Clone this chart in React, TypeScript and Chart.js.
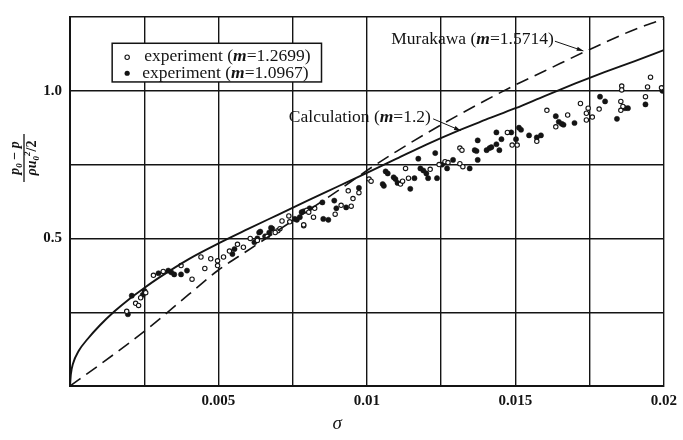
import { useEffect, useRef } from "react";
import { Chart, registerables } from "chart.js";

Chart.register(...registerables);

// ---- data ----
const xTickValues = [0.005, 0.01, 0.015, 0.02];
const xTickLabels = ["0.005", "0.01", "0.015", "0.02"];
const yTickValues = [0.5, 1.0];
const yTickLabels = ["0.5", "1.0"];

const calcSigma = [0, 0.00003, 0.0001, 0.0003, 0.0006, 0.001, 0.0015, 0.002, 0.0025, 0.003, 0.004, 0.005, 0.006, 0.007, 0.008, 0.009, 0.01, 0.011, 0.012, 0.013, 0.014, 0.015, 0.016, 0.017, 0.018, 0.019, 0.02];
const calcY = [0, 0.04, 0.075, 0.12, 0.16, 0.205, 0.253, 0.295, 0.332, 0.367, 0.43, 0.483, 0.532, 0.58, 0.628, 0.675, 0.722, 0.77, 0.818, 0.862, 0.902, 0.941, 0.983, 1.024, 1.063, 1.1, 1.138];

const muraSigma = [0, 0.001, 0.0025, 0.004, 0.005, 0.006, 0.0075, 0.009, 0.01, 0.011, 0.0125, 0.014, 0.015, 0.016, 0.0175, 0.019, 0.02];
const muraY = [0, 0.072, 0.185, 0.31, 0.393, 0.46, 0.56, 0.66, 0.73, 0.795, 0.885, 0.968, 1.02, 1.068, 1.14, 1.207, 1.243];

const openSigma = [0.00191, 0.00221, 0.00231, 0.00255, 0.00238, 0.00281, 0.00314, 0.00374, 0.00411, 0.00441, 0.00454, 0.00474, 0.00497, 0.00497, 0.00517, 0.00537, 0.00564, 0.00584, 0.00607, 0.00631, 0.00664, 0.007, 0.00707, 0.00787, 0.00691, 0.00714, 0.00737, 0.0074, 0.00787, 0.00797, 0.00804, 0.00824, 0.0082, 0.00893, 0.00913, 0.00937, 0.00953, 0.00947, 0.00973, 0.01007, 0.01014, 0.01113, 0.0112, 0.0113, 0.0114, 0.01213, 0.01243, 0.01263, 0.01273, 0.01313, 0.0132, 0.01313, 0.01323, 0.01473, 0.01489, 0.01506, 0.01572, 0.01606, 0.01636, 0.01676, 0.01719, 0.01739, 0.01739, 0.01745, 0.01759, 0.01782, 0.01855, 0.01862, 0.01855, 0.01858, 0.01858, 0.01938, 0.01945, 0.01955, 0.01992];
const openY = [0.253, 0.28, 0.273, 0.316, 0.299, 0.375, 0.388, 0.408, 0.362, 0.437, 0.398, 0.431, 0.424, 0.408, 0.437, 0.457, 0.48, 0.47, 0.5, 0.493, 0.507, 0.526, 0.533, 0.543, 0.52, 0.559, 0.576, 0.556, 0.546, 0.595, 0.589, 0.602, 0.572, 0.582, 0.612, 0.661, 0.635, 0.609, 0.655, 0.701, 0.694, 0.684, 0.694, 0.737, 0.704, 0.734, 0.75, 0.76, 0.757, 0.806, 0.799, 0.753, 0.743, 0.859, 0.816, 0.816, 0.829, 0.934, 0.878, 0.918, 0.957, 0.924, 0.901, 0.941, 0.911, 0.938, 0.964, 0.947, 0.934, 1.016, 1.003, 0.98, 1.013, 1.046, 1.01];

const filledSigma = [0.00195, 0.00208, 0.00245, 0.00251, 0.00298, 0.00331, 0.00341, 0.00351, 0.00374, 0.00394, 0.00547, 0.00554, 0.00621, 0.00637, 0.00641, 0.00631, 0.00657, 0.00671, 0.00681, 0.00677, 0.00757, 0.00764, 0.00774, 0.0078, 0.00787, 0.00807, 0.0085, 0.00853, 0.0087, 0.0089, 0.00897, 0.0093, 0.00973, 0.01053, 0.01057, 0.01063, 0.0107, 0.0109, 0.01096, 0.01103, 0.01146, 0.0116, 0.01173, 0.0118, 0.0119, 0.012, 0.01206, 0.0123, 0.01236, 0.01253, 0.0127, 0.0129, 0.01346, 0.01373, 0.01363, 0.01369, 0.01373, 0.01403, 0.01413, 0.01419, 0.01436, 0.01436, 0.01446, 0.01453, 0.01486, 0.01512, 0.01519, 0.01502, 0.01546, 0.01572, 0.01586, 0.01636, 0.01646, 0.01656, 0.01662, 0.01699, 0.01785, 0.01802, 0.01842, 0.01869, 0.01879, 0.01938, 0.01995];
const filledY = [0.243, 0.306, 0.309, 0.322, 0.382, 0.391, 0.385, 0.378, 0.378, 0.391, 0.447, 0.464, 0.487, 0.52, 0.523, 0.5, 0.507, 0.52, 0.533, 0.536, 0.566, 0.563, 0.572, 0.589, 0.592, 0.602, 0.622, 0.566, 0.563, 0.628, 0.602, 0.605, 0.671, 0.684, 0.678, 0.727, 0.72, 0.707, 0.701, 0.688, 0.668, 0.704, 0.77, 0.737, 0.73, 0.72, 0.704, 0.789, 0.704, 0.75, 0.737, 0.766, 0.737, 0.832, 0.799, 0.796, 0.766, 0.799, 0.806, 0.809, 0.859, 0.819, 0.799, 0.836, 0.859, 0.875, 0.868, 0.836, 0.849, 0.842, 0.849, 0.914, 0.895, 0.888, 0.885, 0.891, 0.98, 0.964, 0.905, 0.941, 0.941, 0.954, 1.0];

const legendLabels = ["experiment (", "m", "=1.2699)", "experiment (", "m", "=1.0967)"];
const murakawaLabel = ["Murakawa (", "m", "=1.5714)"];
const calcLabel = ["Calculation (", "m", "=1.2)"];
const xTitle = "σ";

const toPts = (xs: number[], ys: number[]) => xs.map((x, i) => ({ x, y: ys[i] }));

const SERIF = '"Liberation Serif", "DejaVu Serif", serif';
const INK = "#141414";

type Run = { t: string; font: string; dy?: number };

function drawRuns(ctx: CanvasRenderingContext2D, runs: Run[], x: number, y: number, align: "left" | "center" = "left") {
  let total = 0;
  for (const r of runs) {
    ctx.font = r.font;
    total += ctx.measureText(r.t).width;
  }
  let cx = align === "center" ? x - total / 2 : x;
  ctx.textAlign = "left";
  ctx.textBaseline = "alphabetic";
  for (const r of runs) {
    ctx.font = r.font;
    ctx.fillText(r.t, cx, y + (r.dy || 0));
    cx += ctx.measureText(r.t).width;
  }
  return total;
}

function labelRuns(parts: string[], size: number): Run[] {
  return [
    { t: parts[0], font: `${size}px ${SERIF}` },
    { t: parts[1], font: `italic bold ${size}px ${SERIF}` },
    { t: parts[2], font: `${size}px ${SERIF}` },
  ];
}

const overlayPlugin = {
  id: "overlay",
  afterDatasetsDraw(chart: any) {
    const ctx: CanvasRenderingContext2D = chart.ctx;
    const xs = chart.scales.x;
    const ys = chart.scales.y;
    const px = (v: number) => xs.getPixelForValue(v);
    const py = (v: number) => ys.getPixelForValue(v);
    ctx.save();
    ctx.fillStyle = INK;
    ctx.strokeStyle = INK;

    // legend box
    const bx0 = px(0.00142), bx1 = px(0.00847), by0 = py(1.161), by1 = py(1.03);
    ctx.fillStyle = "#fff";
    ctx.fillRect(bx0, by0, bx1 - bx0, by1 - by0);
    ctx.lineWidth = 1.5;
    ctx.strokeRect(bx0, by0, bx1 - bx0, by1 - by0);
    ctx.fillStyle = INK;
    ctx.beginPath();
    ctx.arc(bx0 + 15, by0 + 14, 2.2, 0, Math.PI * 2);
    ctx.lineWidth = 1.1;
    ctx.stroke();
    ctx.beginPath();
    ctx.arc(bx0 + 15, by0 + 30, 2.6, 0, Math.PI * 2);
    ctx.fill();
    drawRuns(ctx, labelRuns(legendLabels.slice(0, 3), 17.5), bx0 + 32, by0 + 18);
    drawRuns(ctx, labelRuns(legendLabels.slice(3, 6), 17.5), bx0 + 30, by0 + 35);

    const arrow = (x0: number, y0: number, x1: number, y1: number) => {
      ctx.lineWidth = 1;
      ctx.beginPath();
      ctx.moveTo(x0, y0);
      ctx.lineTo(x1, y1);
      ctx.stroke();
      const a = Math.atan2(y1 - y0, x1 - x0);
      ctx.beginPath();
      ctx.moveTo(x1, y1);
      ctx.lineTo(x1 - 7 * Math.cos(a - 0.3), y1 - 7 * Math.sin(a - 0.3));
      ctx.lineTo(x1 - 7 * Math.cos(a + 0.3), y1 - 7 * Math.sin(a + 0.3));
      ctx.closePath();
      ctx.fill();
    };
    // Murakawa annotation
    drawRuns(ctx, labelRuns(murakawaLabel, 17.5), px(0.01082), py(1.158));
    arrow(px(0.01633), py(1.168), px(0.01729), py(1.135));
    // Calculation annotation
    drawRuns(ctx, labelRuns(calcLabel, 17.5), px(0.00737), py(0.895));
    arrow(px(0.01223), py(0.905), px(0.01316), py(0.865));

    // x title
    ctx.font = `italic 19px ${SERIF}`;
    ctx.textAlign = "center";
    ctx.textBaseline = "alphabetic";
    ctx.fillText(xTitle, px(0.009), 429);

    // y title fraction (rotated)
    ctx.translate(24, 158);
    ctx.rotate(-Math.PI / 2);
    const f = `italic bold 14px ${SERIF}`;
    const fs = `italic bold 9px ${SERIF}`;
    drawRuns(ctx, [
      { t: "p", font: f },
      { t: "0", font: fs, dy: 3 },
      { t: " − ", font: `bold 14px ${SERIF}` },
      { t: "p", font: f },
    ], 0, -5, "center");
    ctx.lineWidth = 1.3;
    ctx.beginPath();
    ctx.moveTo(-24, 0);
    ctx.lineTo(24, 0);
    ctx.stroke();
    drawRuns(ctx, [
      { t: "ρu", font: f },
      { t: "0", font: fs, dy: 3 },
      { t: "2", font: fs, dy: -6 },
      { t: "/2", font: `bold 14px ${SERIF}` },
    ], 0, 12, "center");
    ctx.restore();
  },
};

export default function App() {
  const ref = useRef<HTMLCanvasElement>(null);
  useEffect(() => {
    if (!ref.current) return;
    const findLabel = (v: number, vals: number[], labels: string[]) => {
      const i = vals.findIndex((t) => Math.abs(t - v) < 1e-9);
      return i >= 0 ? labels[i] : "";
    };
    const chart = new Chart(ref.current, {
      type: "scatter",
      data: {
        datasets: [
          {
            label: "Calculation (m=1.2)",
            data: toPts(calcSigma, calcY),
            showLine: true,
            borderColor: INK,
            borderWidth: 1.9,
            pointRadius: 0,
            cubicInterpolationMode: "monotone",
          } as any,
          {
            label: "Murakawa (m=1.5714)",
            data: toPts(muraSigma, muraY),
            showLine: true,
            borderColor: INK,
            borderWidth: 1.6,
            borderDash: [13, 7],
            pointRadius: 0,
            cubicInterpolationMode: "monotone",
          } as any,
          {
            label: "experiment (m=1.2699)",
            data: toPts(openSigma, openY),
            pointRadius: 2.2,
            pointBackgroundColor: "#fff",
            pointBorderColor: INK,
            pointBorderWidth: 1.1,
          },
          {
            label: "experiment (m=1.0967)",
            data: toPts(filledSigma, filledY),
            pointRadius: 2.6,
            pointBackgroundColor: INK,
            pointBorderColor: INK,
            pointBorderWidth: 0.5,
          },
        ],
      },
      options: {
        animation: false,
        responsive: false,
        devicePixelRatio: 1,
        layout: { padding: { left: 0, right: 11, top: 5, bottom: 0 } },
        plugins: { legend: { display: false }, tooltip: { enabled: false }, title: { display: false } },
        scales: {
          x: {
            type: "linear",
            min: 0,
            max: 0.02,
            afterFit: (s: any) => { s.height = 54; },
            grid: { color: INK, lineWidth: 1.4, drawTicks: false },
            border: { display: true, color: INK, width: 2 },
            ticks: {
              stepSize: 0.0025,
              autoSkip: false,
              maxRotation: 0,
              padding: 6,
              color: INK,
              font: { family: SERIF, size: 15, weight: "bold" },
              callback: (v: any) => findLabel(Number(v), xTickValues, xTickLabels),
            },
          },
          y: {
            type: "linear",
            min: 0,
            max: 1.25,
            afterFit: (s: any) => { s.width = 70; },
            grid: { color: INK, lineWidth: 1.4, drawTicks: false },
            border: { display: true, color: INK, width: 2 },
            ticks: {
              stepSize: 0.25,
              autoSkip: false,
              padding: 8,
              color: INK,
              font: { family: SERIF, size: 15, weight: "bold" },
              callback: (v: any) => findLabel(Number(v), yTickValues, yTickLabels),
            },
          },
        },
      },
      plugins: [overlayPlugin],
    });
    return () => chart.destroy();
  }, []);
  return (
    <div style={{ position: "fixed", left: 0, top: 0, width: 683, height: 440, background: "#fff" }}>
      <canvas ref={ref} width={683} height={440} />
    </div>
  );
}
